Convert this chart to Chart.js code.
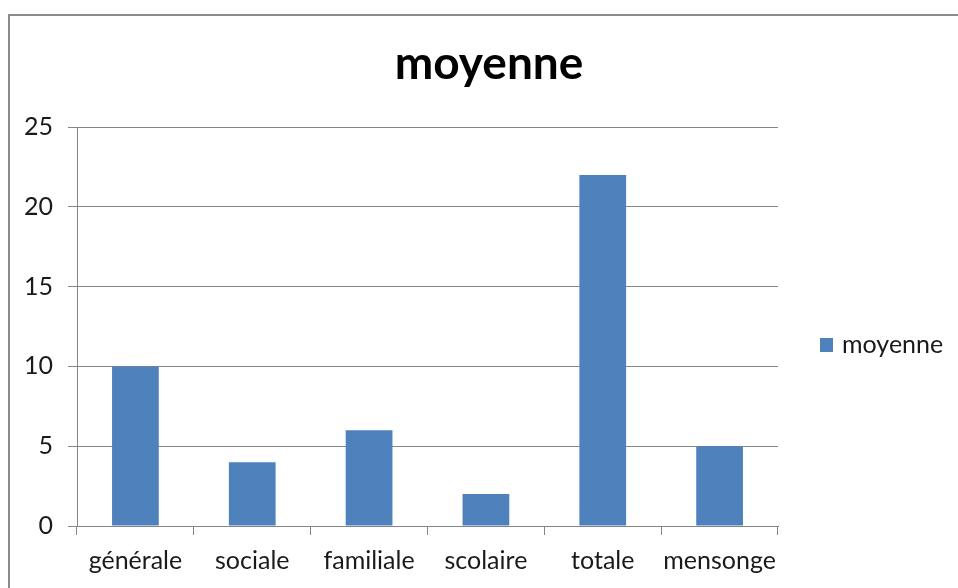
<!DOCTYPE html>
<html>
<head>
<meta charset="utf-8">
<script src="https://cdn.jsdelivr.net/npm/chart.js@4/dist/chart.umd.min.js"></script>
<style>
  html,body{margin:0;padding:0;background:#fff;}
  #wrap{position:relative;width:958px;height:588px;overflow:hidden;}
  #frame{position:absolute;left:8px;top:14px;width:1000px;height:700px;border-left:2px solid #8c8c8c;border-top:2px solid #8c8c8c;box-sizing:border-box;}
  canvas{position:absolute;left:0;top:0;}
</style>
</head>
<body>
<div id="wrap">
  <div id="frame"></div>
  <canvas id="c" width="958" height="588"></canvas>
</div>
<script>
const categories = ["générale", "sociale", "familiale", "scolaire", "totale", "mensonge"];
const seriesName = "moyenne";
const titleText = "moyenne";
const values = [10, 4, 6, 2, 22, 5];
const yTicks = [0, 5, 10, 15, 20, 25];

const FONT = "Lato, 'Open Sans', sans-serif";
const BAR = "#4f81bd";
const GRID = "#868686";
const TXT = "#1a1a1a";

const decorPlugin = {
  id: 'decor',
  afterDraw(chart) {
    const ctx = chart.ctx;
    const ds = chart.data.datasets[0];
    ctx.save();
    // title
    ctx.fillStyle = "#000";
    ctx.font = "bold 46px " + FONT;
    ctx.textAlign = "center";
    ctx.textBaseline = "alphabetic";
    ctx.fillText(titleText, 489, 79);
    // legend
    ctx.fillStyle = ds.backgroundColor;
    ctx.fillRect(820, 338, 13, 14);
    ctx.fillStyle = TXT;
    ctx.font = "25px " + FONT;
    ctx.textBaseline = "middle";
    ctx.textAlign = "left";
    ctx.fillText(ds.label, 842, 345);
    ctx.restore();
  }
};

new Chart(document.getElementById('c'), {
  type: 'bar',
  data: {
    labels: categories,
    datasets: [{
      label: seriesName,
      data: values,
      backgroundColor: BAR,
      borderWidth: 0,
      categoryPercentage: 1.0,
      barPercentage: 0.4
    }]
  },
  options: {
    responsive: false,
    animation: false,
    devicePixelRatio: 1,
    layout: { padding: { left: 0, right: 180, top: 127, bottom: 0 } },
    plugins: {
      legend: { display: false },
      tooltip: { enabled: false },
      title: { display: false }
    },
    scales: {
      x: {
        grid: { display: true, drawOnChartArea: false, drawTicks: true, tickLength: 9, color: GRID, offset: true },
        border: { display: true, color: GRID, width: 1 },
        ticks: { color: TXT, font: { family: FONT, size: 25 }, padding: 11, maxRotation: 0, autoSkip: false },
        afterFit(s) { s.height = 62; }
      },
      y: {
        min: 0, max: 25,
        afterBuildTicks(s) { s.ticks = yTicks.map(v => ({ value: v })); },
        grid: { color: GRID, lineWidth: 1, drawTicks: true, tickLength: 9 },
        border: { display: true, color: GRID, width: 1 },
        ticks: { color: TXT, font: { family: FONT, size: 25 }, padding: 15 },
        afterFit(s) { s.width = 77; }
      }
    }
  },
  plugins: [decorPlugin]
});
</script>
</body>
</html>
